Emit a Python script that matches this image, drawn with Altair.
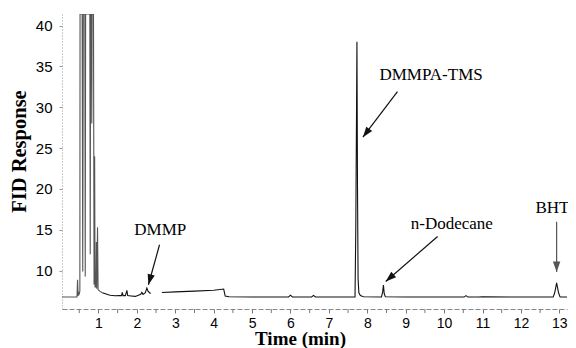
import math
import altair as alt
import pandas as pd

# ---- chromatogram trace (time in min, FID response) ----
# segment A: solvent front (drawn grey)
t_a = [0.05, 0.44, 0.455, 0.47, 0.485, 0.50, 0.515, 0.52, 0.575, 0.59, 0.605, 0.645, 0.655, 0.665,
       0.775, 0.785, 0.795, 0.815, 0.825, 0.835, 0.87, 0.885, 0.90, 0.91, 0.935, 0.945, 0.955,
       0.975, 0.99, 1.03, 1.10]
v_a = [6.77, 6.77, 8.9, 6.9, 7.4, 7.2, 7.5, 41.41, 41.41, 9.9, 41.41, 41.41, 9.3, 41.41,
       41.41, 12.0, 41.41, 41.41, 28.0, 41.41, 41.41, 8.3, 24.0, 8.0, 8.0, 13.5, 7.8,
       15.3, 7.7, 7.5, 7.3]
# segment B: early baseline incl. DMMP
t_b = [1.10, 1.2, 1.3, 1.43, 1.55, 1.6, 1.62, 1.64, 1.7, 1.74, 1.76, 1.85, 1.96, 2.04, 2.1,
       2.13, 2.16, 2.22, 2.26, 2.29, 2.33, 2.36]
v_b = [7.3, 7.15, 7.0, 6.93, 6.95, 6.95, 7.35, 6.95, 6.95, 7.6, 6.95, 6.9, 6.85, 7.0, 7.1,
       7.35, 7.1, 7.3, 7.87, 7.5, 7.3, 7.2]
# segment C: rest of run
t_c = [2.65, 3.0, 3.5, 4.0, 4.26, 4.30, 4.4, 5.0, 5.95, 6.0, 6.05, 6.55, 6.6, 6.65, 7.0,
       7.68, 7.70, 7.72, 7.73, 7.745, 7.76, 7.78, 7.82, 7.9, 8.37, 8.40, 8.42, 8.44, 8.47,
       9.0, 10.0, 10.52, 10.57, 10.62, 10.9, 11.0, 12.0, 12.84, 12.88, 12.93, 12.98, 13.02, 13.2]
v_c = [7.33, 7.4, 7.5, 7.6, 7.75, 6.9, 6.8, 6.78, 6.78, 7.0, 6.78, 6.78, 6.98, 6.78, 6.77,
       6.77, 15.0, 30.0, 38.0, 20.0, 9.0, 7.3, 6.95, 6.8, 6.78, 7.4, 8.25, 7.2, 6.8,
       6.77, 6.77, 6.77, 6.95, 6.77, 6.77, 6.8, 6.77, 6.77, 7.3, 8.5, 7.3, 6.77, 6.77]

# ---- axis ticks ----
x_ticks = list(range(1, 14))
x_minor = [i + 0.5 for i in range(0, 13)]
y_ticks = [10, 15, 20, 25, 30, 35, 40]

# ---- annotations ----
ann_labels = ["DMMP", "DMMPA-TMS", "n-Dodecane", "BHT"]
ann_t = [2.61, 9.66, 10.20, 12.82]
ann_v = [15.0, 33.95, 15.70, 17.65]
arr_t0 = [2.59, 8.785, 9.83, 12.93]
arr_v0 = [13.17, 31.91, 14.18, 15.98]
arr_t1 = [2.30, 7.885, 8.48, 12.93]
arr_v1 = [8.28, 26.33, 8.68, 9.83]
arr_color = ["#111111", "#111111", "#111111", "#555555"]

X_DOM = [0.05, 13.2]
Y_DOM = [5.31, 41.41]
W, H = 505, 295

trace = pd.DataFrame({
    "t": t_a + t_b + t_c,
    "v": v_a + v_b + v_c,
    "seg": ["a"] * len(t_a) + ["b"] * len(t_b) + ["c"] * len(t_c),
})

px_x = W / (X_DOM[1] - X_DOM[0])
px_y = H / (Y_DOM[1] - Y_DOM[0])
angles = []
for a0, b0, a1, b1 in zip(arr_t0, arr_v0, arr_t1, arr_v1):
    dx = (a1 - a0) * px_x
    dy = -(b1 - b0) * px_y
    angles.append((math.degrees(math.atan2(dx, -dy)) + 360) % 360)

arrows = pd.DataFrame({"t0": arr_t0, "v0": arr_v0, "t1": arr_t1, "v1": arr_v1,
                       "ang": angles, "col": arr_color})
labels = pd.DataFrame({"lab": ann_labels, "t": ann_t, "v": ann_v})
minor = pd.DataFrame({"t": x_minor})

xs = alt.Scale(domain=X_DOM, nice=False, zero=False)
ys = alt.Scale(domain=Y_DOM, nice=False, zero=False)

line = alt.Chart(trace).mark_line(strokeWidth=1.1, clip=True).encode(
    x=alt.X("t:Q", scale=xs, title="Time (min)",
            axis=alt.Axis(values=x_ticks, format="d", labelOverlap=False,
                          labelFont="Liberation Sans", labelFontSize=14, labelColor="#000",
                          labelPadding=3, tickSize=4, tickColor="#777",
                          domainColor="#888", domainDash=[5, 2], grid=False,
                          titleFont="Liberation Serif", titleFontWeight="bold",
                          titleFontSize=19, titleColor="#000",
                          titleX=238, titleY=35, titleBaseline="alphabetic")),
    y=alt.Y("v:Q", scale=ys, title="FID Response",
            axis=alt.Axis(values=y_ticks, labelOverlap=False,
                          labelFont="Liberation Sans", labelFontSize=15, labelColor="#000",
                          labelPadding=7, tickSize=3, tickColor="#999",
                          domainColor="#999", domainDash=[1, 2], grid=False,
                          titleFont="Liberation Serif", titleFontWeight="bold",
                          titleFontSize=20.5, titleColor="#000",
                          titleX=-43, titleY=137, titleBaseline="middle")),
    detail="seg:N",
    color=alt.Color("seg:N", scale=alt.Scale(domain=["a", "b", "c"],
                                             range=["#555555", "#111111", "#111111"]),
                    legend=None),
)

minor_ticks = alt.Chart(minor).mark_rule(strokeWidth=1, color="#777").encode(
    x=alt.X("t:Q", scale=xs),
    y=alt.value(H),
    y2=alt.value(H + 4),
)

rules = alt.Chart(arrows).mark_rule(strokeWidth=1.2).encode(
    x=alt.X("t0:Q", scale=xs), y=alt.Y("v0:Q", scale=ys),
    x2="t1:Q", y2="v1:Q",
    color=alt.Color("col:N", scale=None),
)

heads = alt.Chart(arrows).mark_point(
    shape="M0,0 L0.7,2 L-0.7,2 Z", filled=True, opacity=1, size=110, strokeWidth=0
).encode(
    x=alt.X("t1:Q", scale=xs), y=alt.Y("v1:Q", scale=ys),
    angle=alt.Angle("ang:Q", scale=None),
    color=alt.Color("col:N", scale=None),
)

texts = alt.Chart(labels).mark_text(
    font="Liberation Serif", fontSize=17, color="#000", align="center", baseline="middle"
).encode(
    x=alt.X("t:Q", scale=xs), y=alt.Y("v:Q", scale=ys), text="lab:N"
)

chart = alt.layer(line, minor_ticks, rules, heads, texts).properties(
    width=W, height=H,
    autosize=alt.AutoSizeParams(type="none"),
    padding={"left": 54, "top": 6, "right": 1, "bottom": 39},
    background="white",
).configure_view(stroke=None)

chart.save("out.html", embed_options={"renderer": "svg", "actions": False})
